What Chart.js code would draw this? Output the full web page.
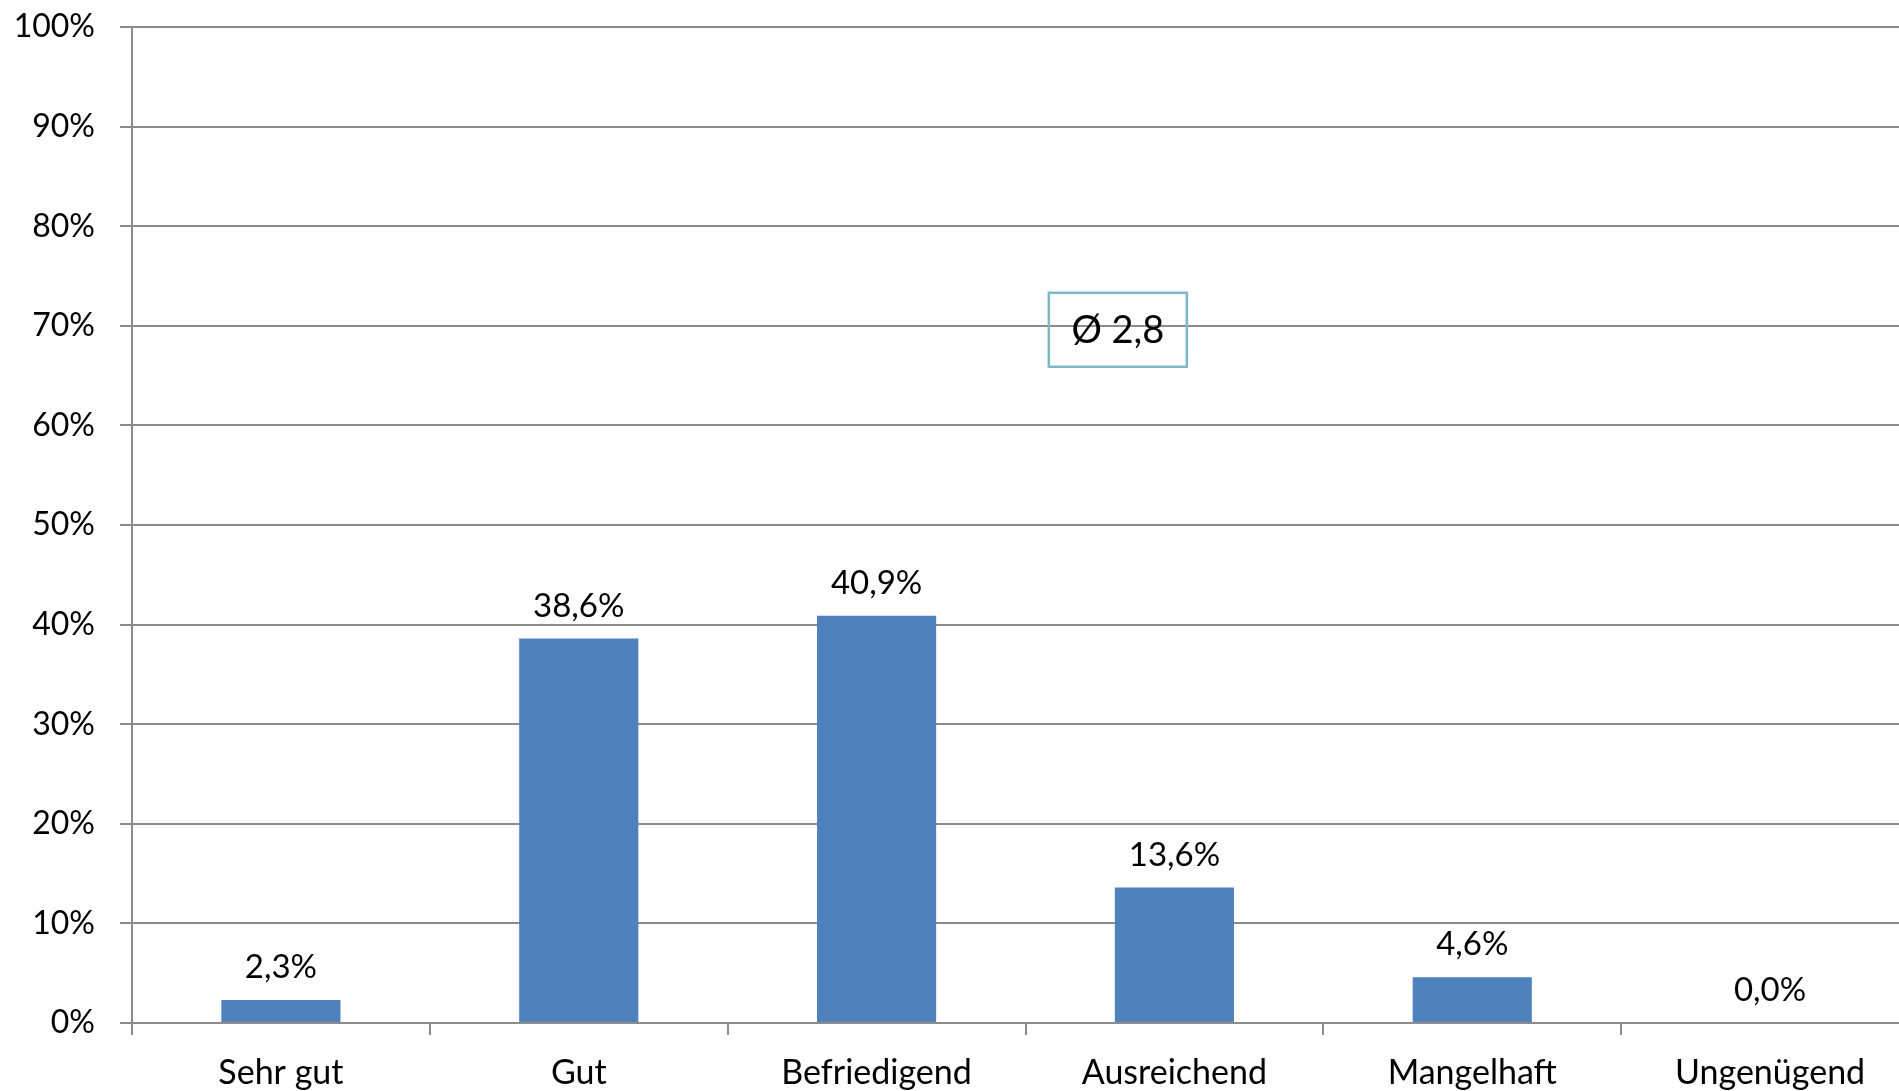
<!DOCTYPE html>
<html>
<head>
<meta charset="utf-8">
<script src="https://cdn.jsdelivr.net/npm/chart.js@4"></script>
<style>
  html, body { margin: 0; padding: 0; background: #fff; overflow: hidden; }
  #wrap { width: 1920px; height: 1091px; }
</style>
</head>
<body>
<div id="wrap"><canvas id="gradeChart" width="1920" height="1091"></canvas></div>
<script>
const categories = ['Sehr gut', 'Gut', 'Befriedigend', 'Ausreichend', 'Mangelhaft', 'Ungenügend'];
const shares = [2.3, 38.6, 40.9, 13.6, 4.6, 0.0];
const averageGrade = 2.8;

const Style = {
  FONT: 'Lato, "Open Sans", sans-serif',
  BAR: '#4f81bd',
  GRID: '#8c8c8c',
  BOX: '#7fb7c7',
};

// box with the average grade, placed in data coordinates
const averageBox = { x: 2.81, y: 69.6, width: 138, height: 74 };

const fmtPercent = (v) => v.toFixed(1).replace('.', ',') + '%';

const valueLabels = {
  id: 'valueLabels',
  afterDatasetsDraw(chart) {
    const { ctx } = chart;
    const meta = chart.getDatasetMeta(0);
    ctx.save();
    ctx.font = '33px ' + Style.FONT;
    ctx.fillStyle = '#000';
    ctx.textAlign = 'center';
    ctx.textBaseline = 'alphabetic';
    meta.data.forEach((bar, i) => {
      ctx.fillText(fmtPercent(shares[i]), bar.x, bar.y - 22);
    });
    ctx.restore();
  },
};

const averageLabel = {
  id: 'averageLabel',
  afterDraw(chart) {
    const { ctx, scales } = chart;
    const cx = scales.x.getPixelForValue(averageBox.x);
    const cy = scales.y.getPixelForValue(averageBox.y);
    ctx.save();
    ctx.strokeStyle = Style.BOX;
    ctx.lineWidth = 2.5;
    ctx.strokeRect(cx - averageBox.width / 2, cy - averageBox.height / 2, averageBox.width, averageBox.height);
    ctx.font = '38px ' + Style.FONT;
    ctx.fillStyle = '#000';
    ctx.textAlign = 'center';
    ctx.textBaseline = 'middle';
    ctx.fillText('Ø ' + averageGrade.toFixed(1).replace('.', ','), cx, cy + 1);
    ctx.restore();
  },
};

new Chart(document.getElementById('gradeChart'), {
  type: 'bar',
  data: {
    labels: categories,
    datasets: [{
      data: shares,
      backgroundColor: Style.BAR,
      barPercentage: 0.8,
      categoryPercentage: 0.5,
    }],
  },
  options: {
    responsive: false,
    animation: false,
    layout: { padding: { top: 27, right: 1, left: 0, bottom: 0 } },
    plugins: {
      legend: { display: false },
      tooltip: { enabled: false },
    },
    scales: {
      x: {
        grid: {
          offset: true,
          drawOnChartArea: false,
          drawTicks: true,
          tickLength: 12,
          color: Style.GRID,
          lineWidth: 2,
        },
        border: { color: Style.GRID, width: 2 },
        ticks: {
          color: '#000',
          font: { family: Style.FONT, size: 34 },
          padding: 18,
          maxRotation: 0,
        },
        afterFit: (scale) => {
          scale.height = 68;
          scale.paddingLeft = 0;
          scale.paddingRight = 0;
        },
      },
      y: {
        min: 0,
        max: 100,
        ticks: {
          stepSize: 10,
          color: '#000',
          font: { family: Style.FONT, size: 32 },
          padding: 25,
          callback: (v) => v + '%',
        },
        grid: { color: Style.GRID, lineWidth: 2, tickLength: 12 },
        border: { color: Style.GRID, width: 2 },
        afterFit: (scale) => {
          scale.width = 132;
          scale.paddingTop = 0;
          scale.paddingBottom = 0;
        },
      },
    },
  },
  plugins: [valueLabels, averageLabel],
});
</script>
</body>
</html>
